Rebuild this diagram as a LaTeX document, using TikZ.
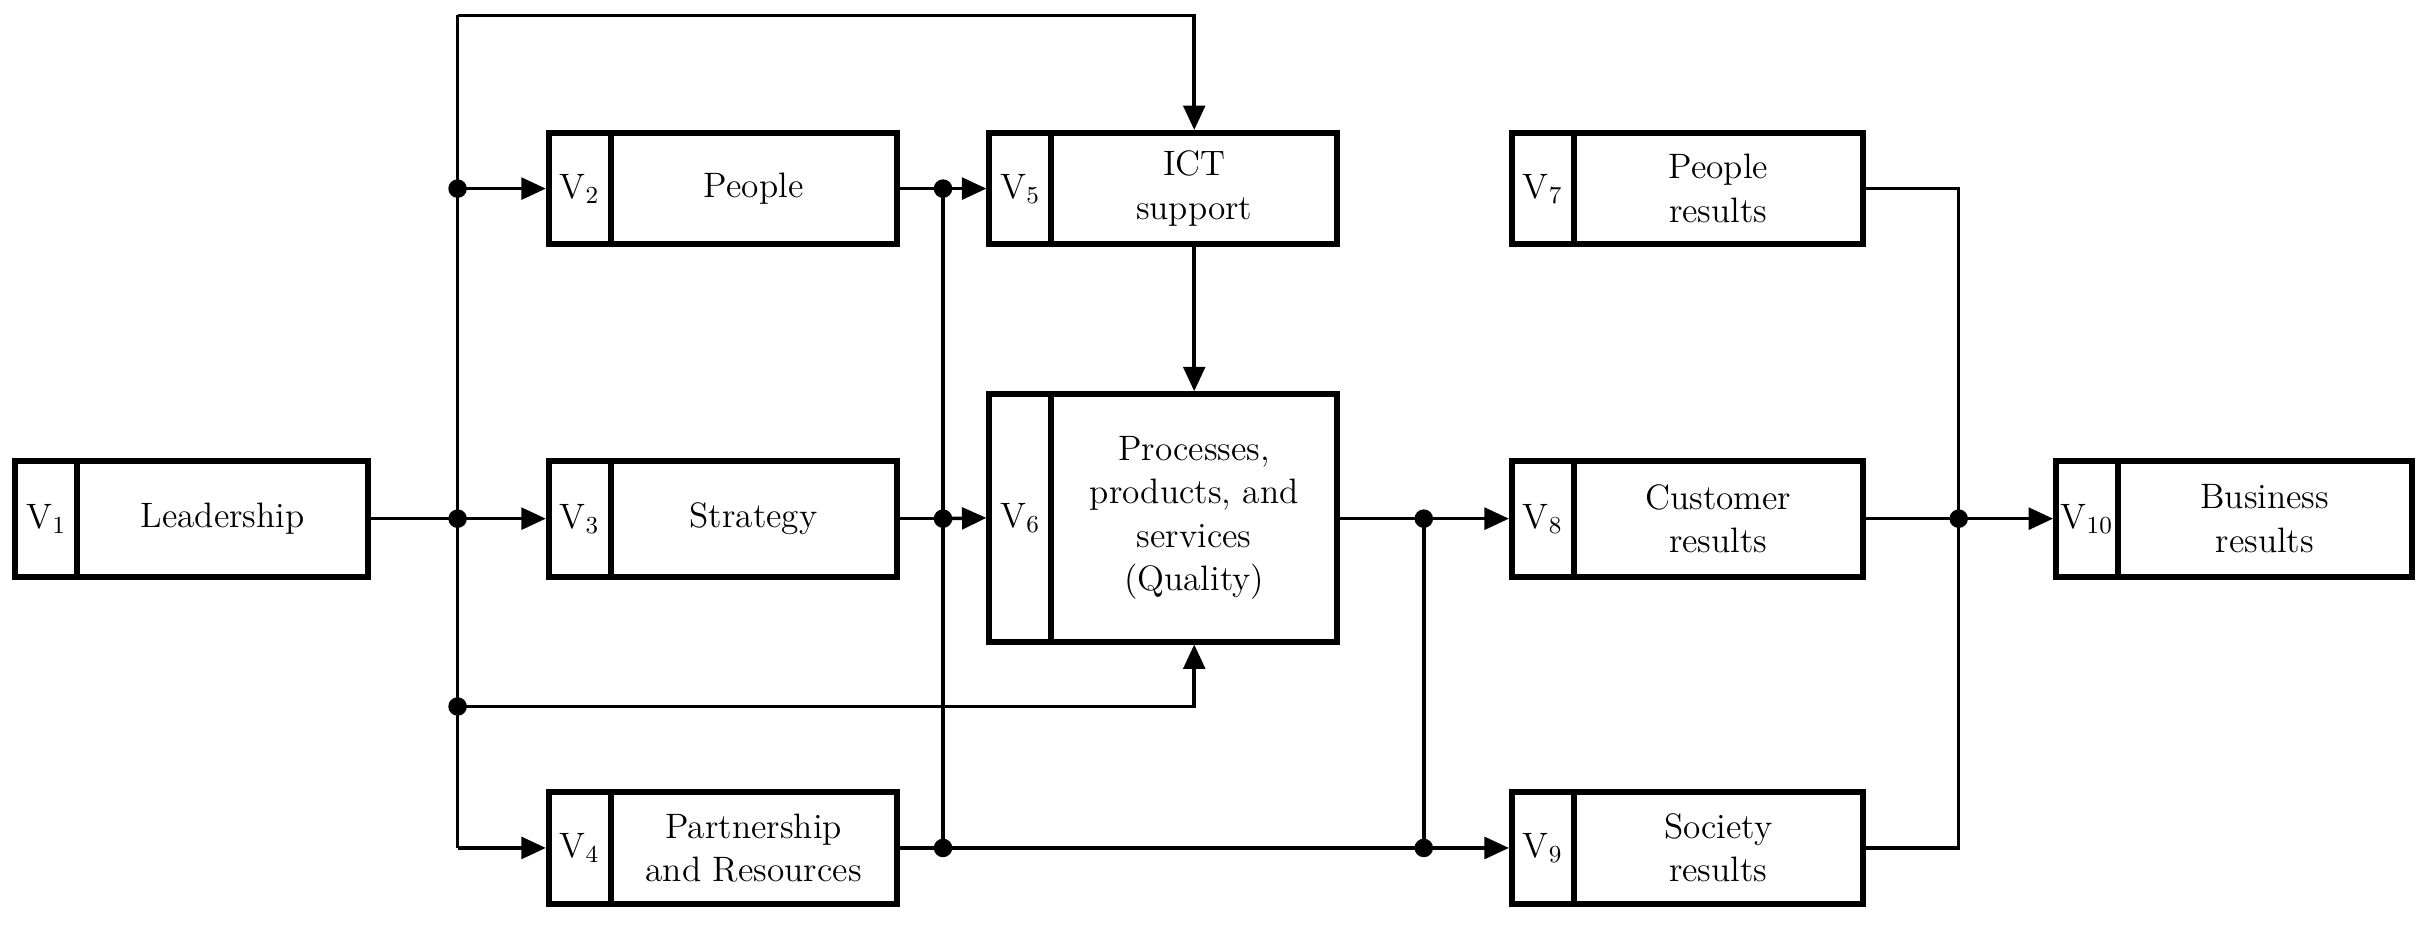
\documentclass[tikz,border=0pt]{standalone}
\usepackage{amsmath}
\usetikzlibrary{arrows.meta}

\tikzset{
	tag/.style={draw, line width=2.2pt, inner sep=0pt, font=\fontsize{13}{15}\selectfont},
	box/.style={draw, line width=2.2pt, inner sep=0pt, align=center, font=\fontsize{13}{16}\selectfont},
	link/.style={line width=1.3pt},
	->/.style={link, -{Triangle[length=9pt, width=8pt]}}
}

% name, x1, y1, x2, y2, index, text
\newcommand\ebox[7]{%
	\node[tag, minimum width={40*0.02cm}, minimum height={(#5-#3)*0.02cm}] (#1t) at ({#2+20},{(#3+#5)/2}) {V$_{#6}$};
	\node[box, minimum width={(#4-#2-40)*0.02cm}, minimum height={(#5-#3)*0.02cm}] (#1) at ({(#2+40+#4)/2},{(#3+#5)/2}) {#7};}

\begin{document}
\begin{tikzpicture}[x=0.02cm, y=-0.02cm]
		\useasboundingbox (0,0) rectangle (1568,601);
		
		\ebox{v1}{10}{298}{238}{373}{1}{Leadership}
		\ebox{v2}{355}{86}{580}{158}{2}{People}
		\ebox{v3}{355}{298}{580}{373}{3}{Strategy}
		\ebox{v4}{355}{512}{580}{585}{4}{Partnership\\and Resources}
		\ebox{v5}{640}{86}{865}{158}{5}{ICT\\support}
		\ebox{v6}{640}{255}{865}{415}{6}{Processes,\\products, and\\services\\(Quality)}
		\ebox{v7}{978}{86}{1205}{158}{7}{People\\results}
		\ebox{v8}{978}{298}{1205}{373}{8}{Customer\\results}
		\ebox{v9}{978}{512}{1205}{585}{9}{Society\\results}
		\ebox{v10}{1330}{298}{1560}{373}{10}{Business\\results}
		
		\coordinate (a0) at (296,10);
		\coordinate (a1) at (296,122);
		\coordinate (a2) at (296,335.5);
		\coordinate (a3) at (296,457);
		\coordinate (a4) at (296,548.5);
		\coordinate (b1) at (610,122);
		\coordinate (b2) at (610,335.5);
		\coordinate (b3) at (610,548.5);
		\coordinate (c1) at (921,335.5);
		\coordinate (c2) at (921,548.5);
		\coordinate (d1) at (1267,335.5);
		\coordinate (d2) at (1267,548.5);
		
		%========================================================================
		% Arrows
		\draw[link] (v1) -- (a2);
		\draw[link] (a4) -- (a0);
		\draw[->] (a0) -| (v5.north);
		\draw[->] (a1) -- (v2t.west);
		\draw[->] (a2) -- (v3t.west);
		\draw[->] (a4) -- (v4t.west);
		\draw[->] (a3) -| (v6.south);
		\draw[link] (b1) -- (b3);
		\draw[link] (v2) -- (b1);
		\draw[->] (b1) -- (v5t.west);
		\draw[link] (v3) -- (b2);
		\draw[->] (b2) -- (v6t.west);
		\draw[link] (v4) -- (b3) -- (c2);
		\draw[->] (c2) -- (v9t.west);
		\draw[->] (v5) -- (v6);
		\draw[link] (v6.east |- c1) -- (c1) -- (c2);
		\draw[->] (c1) -- (v8t.west);
		\draw[link] (v7) -| (d2) -- (v9);
		\draw[link] (v8) -- (d1);
		\draw[->] (d1) -- (v10t.west);
		
		\foreach \p in {a1,a2,a3,b1,b2,b3,c1,c2,d1}
			\fill (\p) circle (0.12cm);
	\end{tikzpicture}
\end{document}
